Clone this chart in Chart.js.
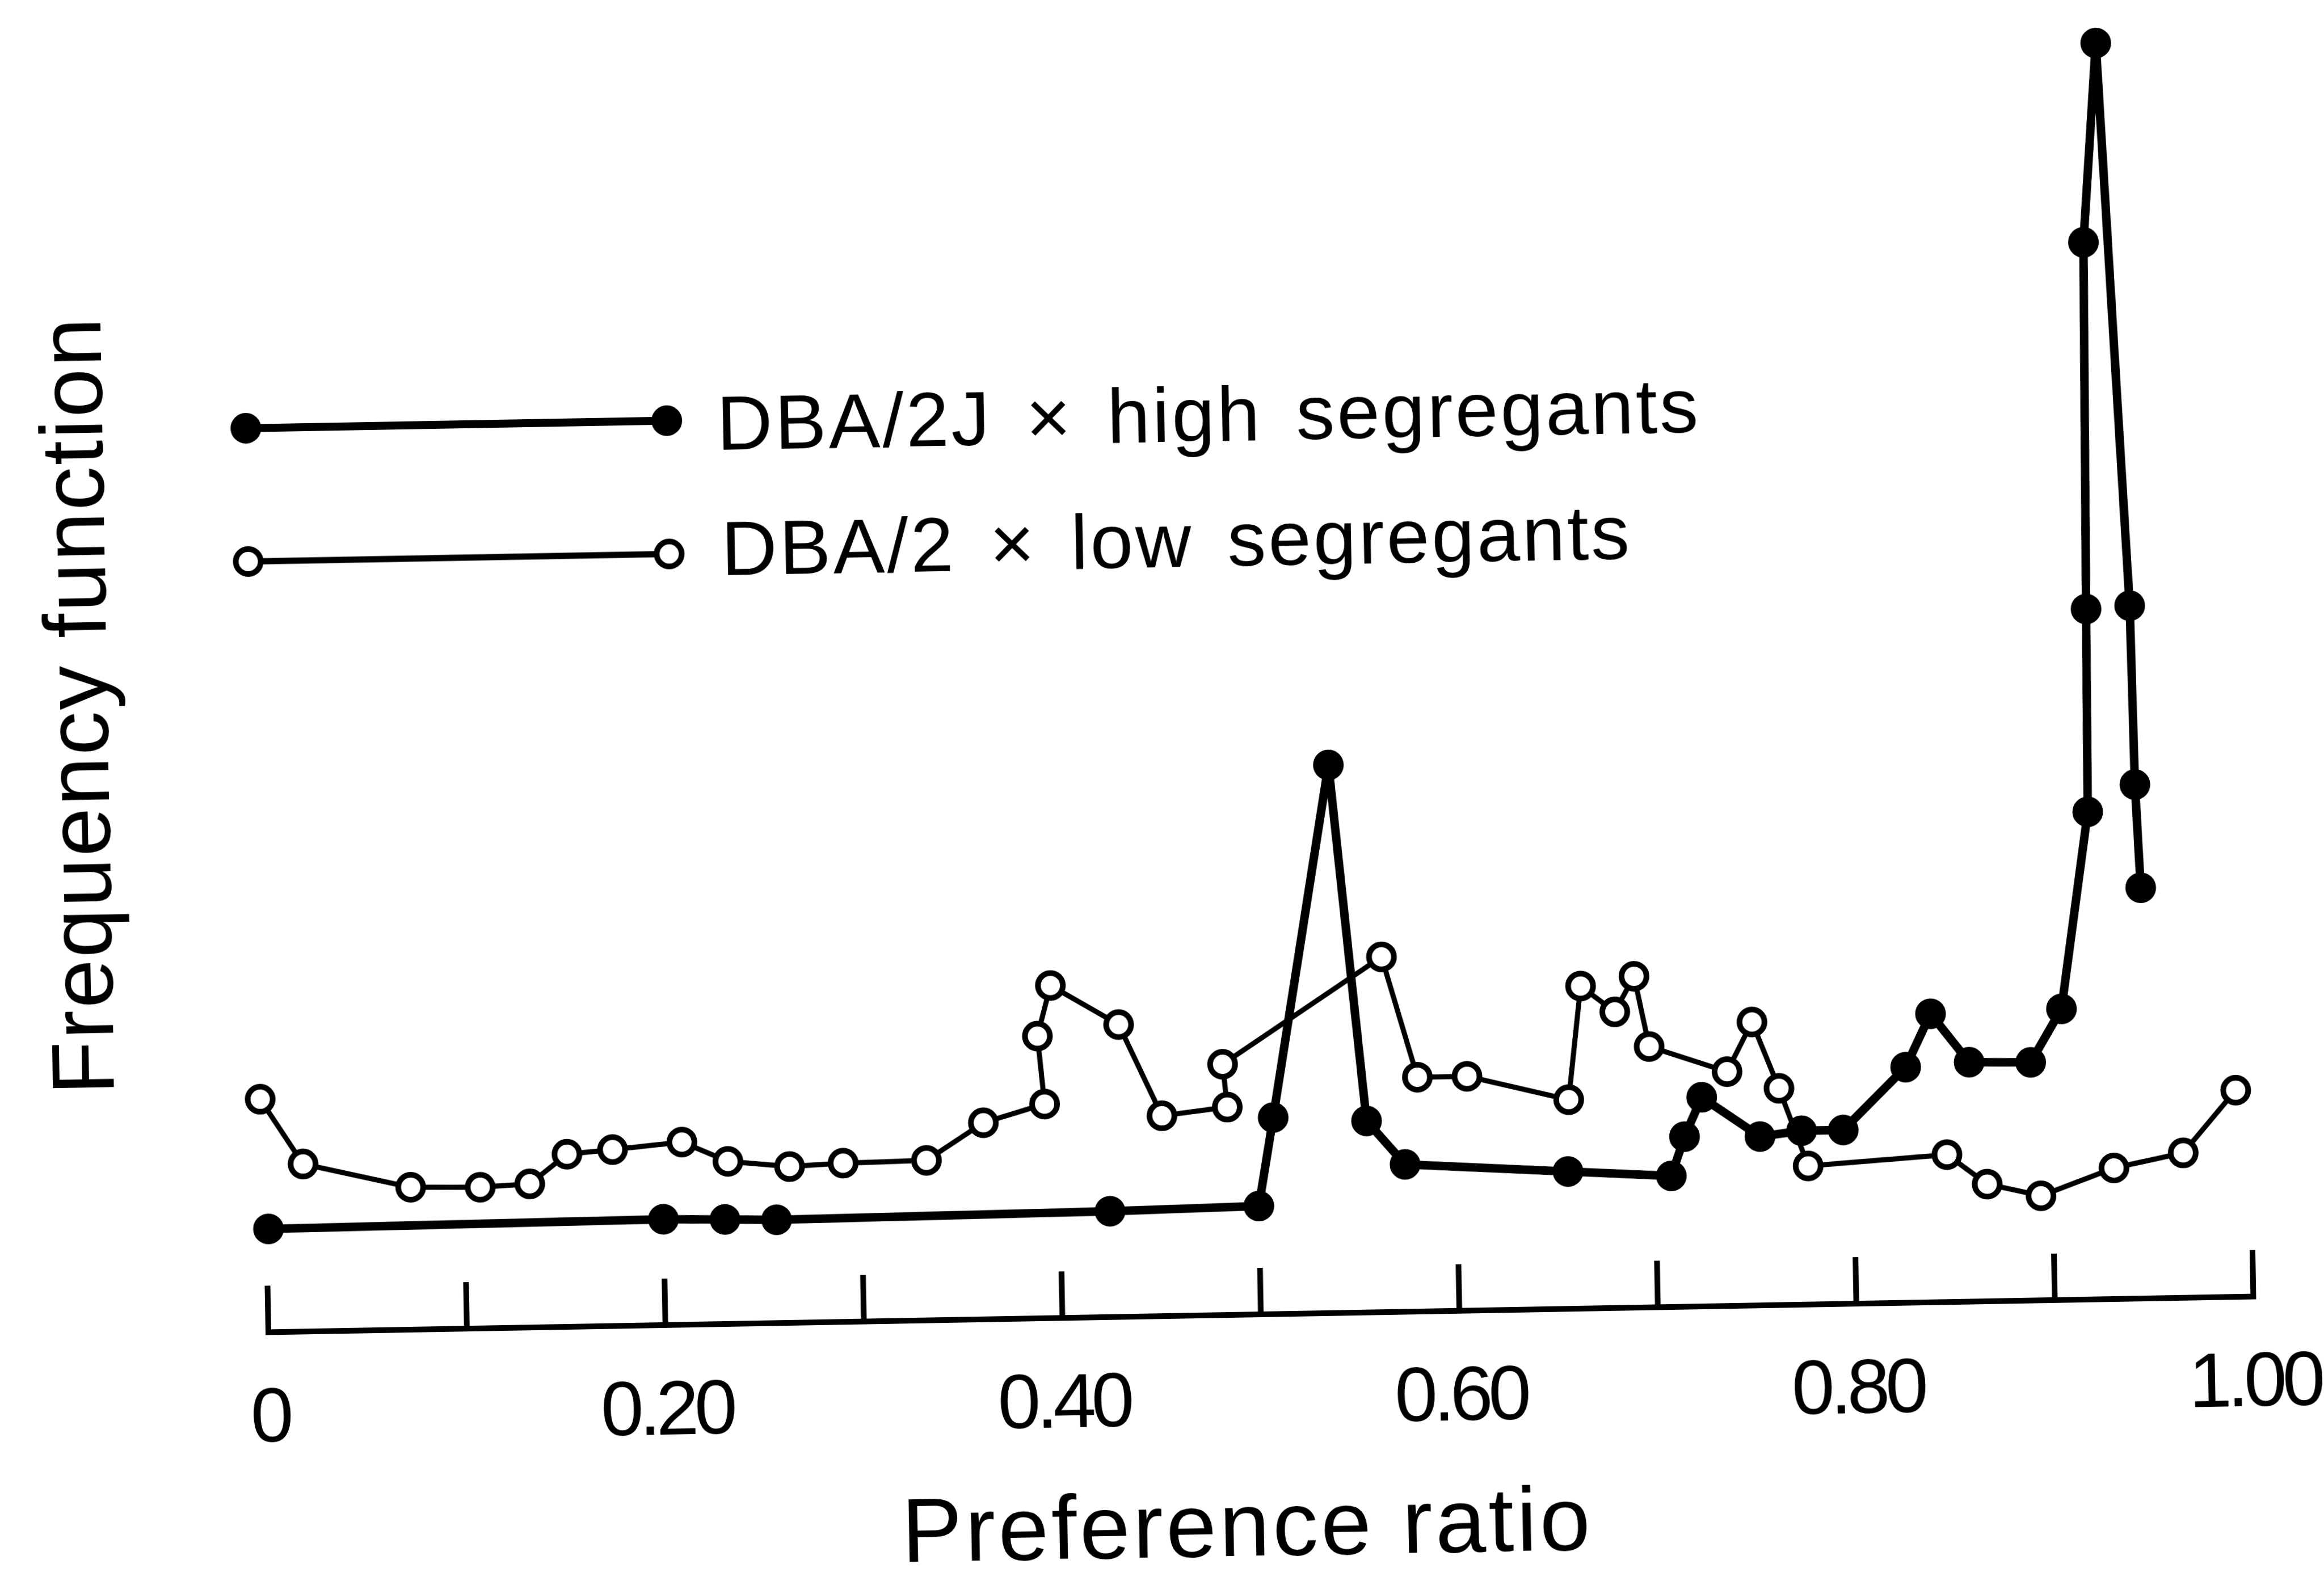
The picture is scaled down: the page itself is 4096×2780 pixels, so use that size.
<!DOCTYPE html>
<html>
<head>
<meta charset="utf-8">
<script src="https://cdn.jsdelivr.net/npm/chart.js@4.4.0/dist/chart.umd.min.js"></script>
<style>
html, body { margin:0; padding:0; background:#fff; overflow:hidden; }
#pref_chart_box { width:4096px; height:2780px; }
/* the scanned figure sits about one degree off level */
#pref_chart { transform: rotate(-1.03deg); }
</style>
</head>
<body>
<div id="pref_chart_box"><canvas id="pref_chart" width="4096" height="2780"></canvas></div>
<script>
// DBA/2J x high segregants (filled dots)
var high_ratio = [0.001, 0.200, 0.231, 0.257, 0.425, 0.500, 0.508, 0.539, 0.555, 0.574,
	0.656, 0.708, 0.715, 0.724, 0.753, 0.774, 0.795, 0.827, 0.840, 0.859,
	0.890, 0.906, 0.921, 0.922, 0.924, 0.932, 0.944, 0.945, 0.947];
var high_freq = [8.2, 8.4, 8.3, 8.2, 8.4, 8.6, 15.6, 43.5, 15.2, 11.7,
	10.9, 10.4, 13.5, 16.6, 13.4, 13.8, 13.8, 18.7, 22.9, 19.0,
	18.9, 23.1, 38.7, 54.8, 83.9, 99.7, 55.0, 40.8, 32.6];

// DBA/2 x low segregants (open dots)
var low_ratio = [-0.002, 0.019, 0.073, 0.108, 0.133, 0.152, 0.175, 0.210, 0.233, 0.264,
	0.291, 0.333, 0.362, 0.393, 0.390, 0.397, 0.431, 0.452, 0.485, 0.483,
	0.564, 0.581, 0.606, 0.657, 0.664, 0.681, 0.691, 0.698, 0.737, 0.750,
	0.763, 0.777, 0.847, 0.867, 0.894, 0.931, 0.966, 0.993];
var low_freq = [18.5, 13.3, 11.3, 11.2, 11.4, 13.7, 14.0, 14.5, 12.9, 12.4,
	12.6, 12.7, 15.6, 17.0, 22.4, 26.4, 23.2, 15.9, 16.5, 19.9,
	28.2, 18.6, 18.6, 16.6, 25.6, 23.5, 26.3, 20.7, 18.6, 22.5,
	17.2, 11.0, 11.7, 9.3, 8.3, 10.4, 11.5, 16.4];

var x_ticks = [0, 0.1, 0.2, 0.3, 0.4, 0.5, 0.6, 0.7, 0.8, 0.9, 1.0];
var x_tick_labels = ['0', '', '0.20', '', '0.40', '', '0.60', '', '0.80', '', '1.00'];
var series_labels = ['DBA/2J \u00d7 high segregants', 'DBA/2 \u00d7 low segregants'];
var x_title = 'Preference ratio';
var y_title = 'Frequency function';

var pref_font = '"Liberation Sans", Arial, sans-serif';

function pref_points(xs, ys)
{
	var out = [];
	for(var i = 0; i < xs.length; i++)
		out.push({x: xs[i], y: ys[i]});
	return out;
}

function pref_marker(ctx, ds, x, y)
{
	ctx.beginPath();
	ctx.arc(x, y, ds.pointRadius, 0, Math.PI * 2);
	ctx.fillStyle = ds.pointBackgroundColor;
	ctx.fill();
	ctx.lineWidth = ds.pointBorderWidth;
	ctx.strokeStyle = ds.pointBorderColor;
	ctx.stroke();
}

//axis line with ticks pointing up, titles and legend
var pref_decor = {
	id: 'pref_decor',
	beforeDraw: function(chart)
	{
		chart.ctx.letterSpacing = '-8px';
	},
	beforeDatasetsDraw: function(chart)
	{
		var ctx = chart.ctx;
		var xs = chart.scales.x;
		var bottom = chart.chartArea.bottom;
		var tick_len = 82;
		ctx.letterSpacing = '0px';
		ctx.save();
		ctx.strokeStyle = '#000';
		ctx.lineWidth = 10;
		ctx.lineJoin = 'miter';
		var x0 = xs.getPixelForValue(x_ticks[0]);
		var x1 = xs.getPixelForValue(x_ticks[x_ticks.length - 1]);
		ctx.beginPath();
		ctx.moveTo(x0, bottom - tick_len);
		ctx.lineTo(x0, bottom);
		ctx.lineTo(x1, bottom);
		ctx.lineTo(x1, bottom - tick_len);
		ctx.stroke();
		for(var i = 1; i < x_ticks.length - 1; i++)
		{
			var px = xs.getPixelForValue(x_ticks[i]);
			ctx.beginPath();
			ctx.moveTo(px, bottom);
			ctx.lineTo(px, bottom - tick_len);
			ctx.stroke();
		}
		ctx.restore();
	},
	afterDraw: function(chart)
	{
		var ctx = chart.ctx;
		ctx.save();
		ctx.fillStyle = '#000';

		//legend
		var line_y = [726, 961];
		var text_y = [779, 1000];
		var text_x = [1275, 1279];
		var line_w = [14, 11];
		ctx.font = '136px ' + pref_font;
		ctx.letterSpacing = '4px';
		ctx.wordSpacing = '18px';
		ctx.textAlign = 'left';
		ctx.textBaseline = 'alphabetic';
		for(var i = 0; i < chart.data.datasets.length; i++)
		{
			var ds = chart.data.datasets[i];
			ctx.beginPath();
			ctx.moveTo(445, line_y[i]);
			ctx.lineTo(1187, line_y[i]);
			ctx.lineWidth = line_w[i];
			ctx.strokeStyle = '#000';
			ctx.stroke();
			pref_marker(ctx, ds, 445, line_y[i]);
			pref_marker(ctx, ds, 1187, line_y[i]);
			ctx.fillStyle = '#000';
			ctx.fillText(ds.label, text_x[i], text_y[i]);
		}

		//axis titles
		ctx.font = '160px ' + pref_font;
		ctx.wordSpacing = '0px';
		ctx.letterSpacing = '5px';
		ctx.textAlign = 'center';
		ctx.fillText(x_title, 2175, 2745);

		ctx.font = '155px ' + pref_font;
		ctx.letterSpacing = '3px';
		ctx.translate(192, (chart.chartArea.top + chart.chartArea.bottom) / 2);
		ctx.rotate(-Math.PI / 2);
		ctx.fillText(y_title, 0, 0);
		ctx.restore();
	}
};

var pref_ctx = document.getElementById('pref_chart').getContext('2d');
var pref_chart = new Chart(pref_ctx, {
	type: 'line',
	data: {
		datasets: [
			{
				label: series_labels[0],
				data: pref_points(high_ratio, high_freq),
				borderColor: '#000',
				borderWidth: 15,
				borderJoinStyle: 'round',
				pointRadius: 26,
				pointBackgroundColor: '#000',
				pointBorderColor: '#000',
				pointBorderWidth: 2,
				tension: 0,
				clip: false
			},
			{
				label: series_labels[1],
				data: pref_points(low_ratio, low_freq),
				borderColor: '#000',
				borderWidth: 9,
				borderJoinStyle: 'round',
				pointRadius: 22,
				pointBackgroundColor: '#fff',
				pointBorderColor: '#000',
				pointBorderWidth: 10,
				tension: 0,
				clip: false
			}
		]
	},
	options: {
		responsive: false,
		animation: false,
		events: [],
		layout: { padding: { left: 456, right: 141, top: 99, bottom: 0 } },
		plugins: { legend: { display: false }, tooltip: { enabled: false } },
		scales: {
			x: {
				type: 'linear',
				min: 0,
				max: 1,
				afterBuildTicks: function(axis) { axis.ticks = x_ticks.map(function(v) { return {value: v}; }); },
				afterFit: function(axis)
				{
					axis.height = 460;
					axis.paddingLeft = 0;
					axis.paddingRight = 0;
				},
				grid: { display: false, drawTicks: false },
				border: { display: false },
				ticks: {
					color: '#000',
					padding: 74,
					maxRotation: 0,
					autoSkip: false,
					font: { family: pref_font, size: 136 },
					callback: function(value, index) { return x_tick_labels[index]; }
				}
			},
			y: { min: 0, max: 100, display: false }
		}
	},
	plugins: [pref_decor]
});
</script>
</body>
</html>
